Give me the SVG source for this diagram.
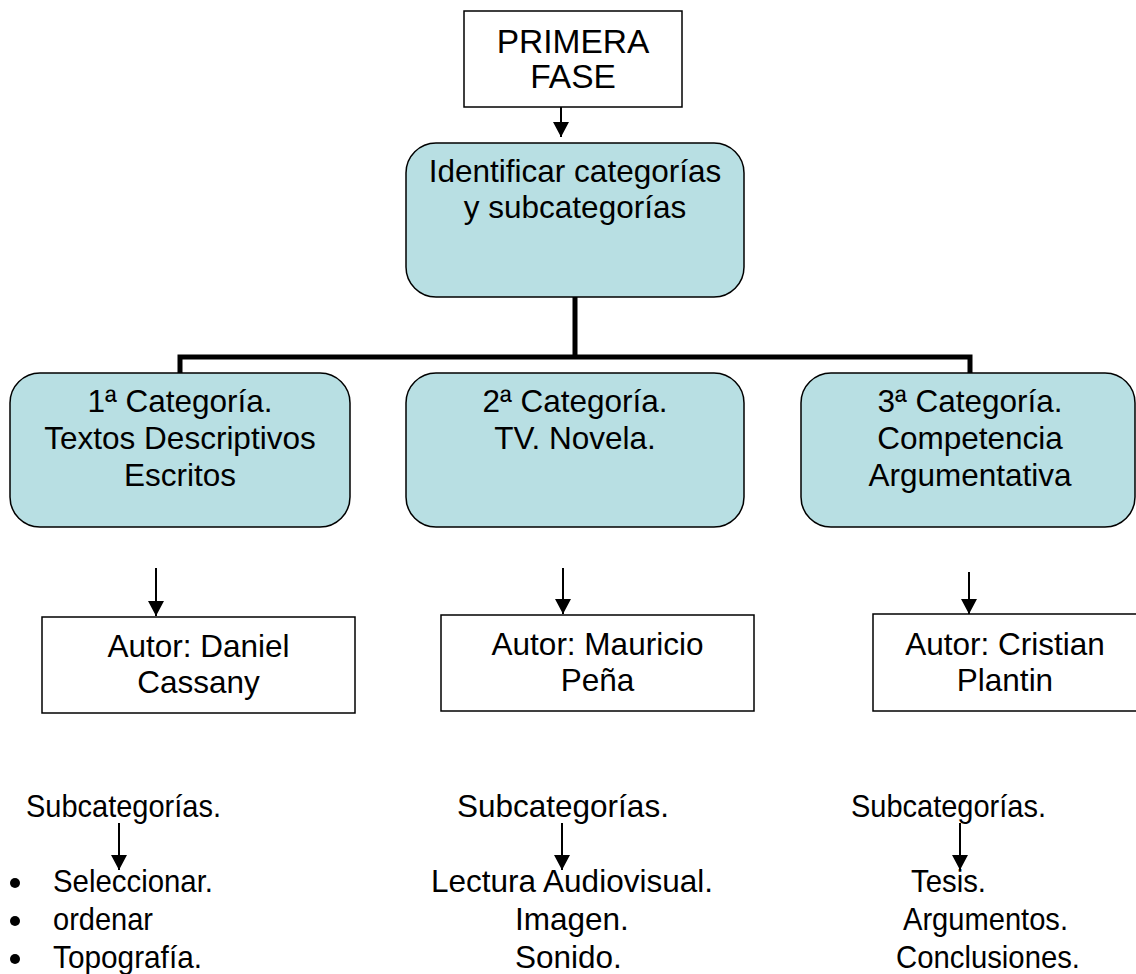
<svg xmlns="http://www.w3.org/2000/svg" width="1136" height="974" viewBox="0 0 1136 974">
<style>
  text { font-family: "Liberation Sans", Arial, sans-serif; font-size: 31.5px; fill: #000; }
  .c { text-anchor: middle; }
  .big { font-size: 33.5px; }
  .box { fill: #fff; stroke: #000; stroke-width: 1.5; }
  .cat { fill: #B8DFE3; stroke: #000; stroke-width: 1.5; }
  .thin { stroke: #000; stroke-width: 2; fill: none; marker-end: url(#ah); }
  .thick { stroke: #000; stroke-width: 5; fill: none; stroke-linejoin: miter; }
</style>
<defs>
  <marker id="ah" viewBox="0 0 15 16" markerWidth="15" markerHeight="16" refX="15" refY="8" markerUnits="userSpaceOnUse" orient="auto">
    <path d="M0,0 L15,8 L0,16 z" fill="#000"/>
  </marker>
</defs>
<rect width="1136" height="974" fill="#fff"/>

<g id="connectors">
  <path class="thick" d="M575,297 V357 M180,373 V357 H970 V373"/>
  <line class="thin" x1="561" y1="92" x2="561" y2="137"/>
  <line class="thin" x1="156" y1="568" x2="156" y2="616"/>
  <line class="thin" x1="563" y1="568" x2="563" y2="614"/>
  <line class="thin" x1="969" y1="572" x2="969" y2="614"/>
  <line class="thin" x1="119" y1="823" x2="119" y2="870"/>
  <line class="thin" x1="562" y1="823" x2="562" y2="870"/>
  <line class="thin" x1="960" y1="823" x2="960" y2="870"/>
</g>

<g id="primera-fase">
  <rect class="box" x="464" y="11" width="218" height="96"/>
  <text class="c big" x="573" y="53">PRIMERA</text>
  <text class="c big" x="573" y="88">FASE</text>
</g>

<g id="identificar">
  <rect class="cat" x="406" y="143" width="338" height="154" rx="30" ry="30"/>
  <text class="c" x="575" y="182">Identificar categorías</text>
  <text class="c" x="575" y="218">y subcategorías</text>
</g>

<g id="cat1">
  <rect class="cat" x="10" y="373" width="340" height="154" rx="30" ry="30"/>
  <text class="c" x="180" y="412">1ª Categoría.</text>
  <text class="c" x="180" y="449">Textos Descriptivos</text>
  <text class="c" x="180" y="486">Escritos</text>
</g>

<g id="cat2">
  <rect class="cat" x="406" y="373" width="338" height="154" rx="30" ry="30"/>
  <text class="c" x="575" y="412">2ª Categoría.</text>
  <text class="c" x="575" y="449">TV. Novela.</text>
</g>

<g id="cat3">
  <rect class="cat" x="801" y="373" width="334" height="154" rx="30" ry="30"/>
  <text class="c" x="970" y="412">3ª Categoría.</text>
  <text class="c" x="970" y="449">Competencia</text>
  <text class="c" x="970" y="486">Argumentativa</text>
</g>

<g id="autor1">
  <rect class="box" x="42" y="617" width="313" height="96"/>
  <text class="c" x="198.5" y="657">Autor: Daniel</text>
  <text class="c" x="198.5" y="693">Cassany</text>
</g>

<g id="autor2">
  <rect class="box" x="441" y="615" width="313" height="96"/>
  <text class="c" x="597.5" y="655">Autor: Mauricio</text>
  <text class="c" x="597.5" y="691">Peña</text>
</g>

<g id="autor3">
  <rect class="box" x="873" y="614" width="280" height="97"/>
  <text class="c" x="1005" y="655">Autor: Cristian</text>
  <text class="c" x="1005" y="691">Plantin</text>
</g>

<g id="sub1">
  <text x="26" y="817" textLength="195" lengthAdjust="spacingAndGlyphs">Subcategorías.</text>
  <circle cx="15" cy="883" r="5"/>
  <circle cx="15" cy="921" r="5"/>
  <circle cx="15" cy="959" r="5"/>
  <text x="53" y="892" textLength="160" lengthAdjust="spacingAndGlyphs">Seleccionar.</text>
  <text x="53" y="930" textLength="100" lengthAdjust="spacingAndGlyphs">ordenar</text>
  <text x="53" y="968" textLength="149" lengthAdjust="spacingAndGlyphs">Topografía.</text>
</g>

<g id="sub2">
  <text x="457" y="817">Subcategorías.</text>
  <text x="431" y="892">Lectura Audiovisual.</text>
  <text x="515" y="930">Imagen.</text>
  <text x="515" y="968">Sonido.</text>
</g>

<g id="sub3">
  <text x="851" y="817" textLength="195" lengthAdjust="spacingAndGlyphs">Subcategorías.</text>
  <text x="911" y="892" textLength="75" lengthAdjust="spacingAndGlyphs">Tesis.</text>
  <text x="903" y="930" textLength="165" lengthAdjust="spacingAndGlyphs">Argumentos.</text>
  <text x="896" y="968" textLength="184" lengthAdjust="spacingAndGlyphs">Conclusiones.</text>
</g>
</svg>
